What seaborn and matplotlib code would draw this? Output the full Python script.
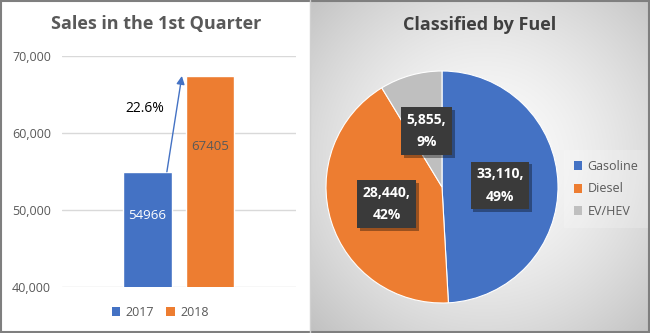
import numpy as np
import pandas as pd
import matplotlib
matplotlib.use("Agg")
import matplotlib.pyplot as plt
import matplotlib.patheffects as pe
from matplotlib.patches import Rectangle, Patch
from matplotlib.lines import Line2D
import seaborn as sns

# ---- data ----
years = ["2017", "2018"]
sales = [54966, 67405]
fuel_types = ["Gasoline", "Diesel", "EV/HEV"]
fuel_sales = [33110, 28440, 5855]
y_ticks = [40000, 50000, 60000, 70000]

bar_colors = ["#4472C4", "#ED7D31"]
pie_colors = ["#4472C4", "#ED7D31", "#BFBFBF"]
TXT = "#595959"

sns.set_theme(style="white")
plt.rcParams["font.family"] = ["Open Sans", "DejaVu Sans"]

W, H = 650, 333
fig = plt.figure(figsize=(6.5, 3.33), dpi=100)
fig.patch.set_facecolor("white")

def fx(px):
    return px / W

def fy(py):
    return 1 - py / H

# ---- right panel gradient background ----
bg = fig.add_axes([fx(310), 0, fx(340), 1], zorder=0)
gx, gy = np.meshgrid(np.linspace(0, 340, 340), np.linspace(0, 333, 333))
cx, cy = 175, 160
d = np.sqrt((gx - cx) ** 2 + (gy - cy) ** 2)
d = d / d.max()
v = (252 - 60 * d ** 1.6) / 255.0
bg.imshow(np.dstack([v, v, v]), aspect="auto", extent=[0, 1, 0, 1], origin="upper")
bg.set_axis_off()

# ---- left bar chart ----
ax = fig.add_axes([fx(62), fy(287), fx(296 - 62), (287 - 56) / H], zorder=2)
df = pd.DataFrame({"year": years, "sales": sales})
sns.barplot(data=df, x="year", y="sales", hue="year", palette=bar_colors,
            width=0.78, ax=ax, legend=False, saturation=1, zorder=3)
ax.set_ylim(40000, 70000)
ax.set_xlim(-1.368, 2.376)
ax.set_yticks(y_ticks)
ax.set_yticklabels([f"{t:,}" for t in y_ticks], color=TXT, fontsize=9)
ax.set_xticks([])
ax.set_xlabel("")
ax.set_ylabel("")
ax.grid(axis="y", color="#D9D9D9", lw=1, zorder=0)
for s in ax.spines.values():
    s.set_visible(False)
ax.tick_params(axis="y", length=0, pad=8)
ax.set_facecolor("none")

ax.text(0, 49350, f"{sales[0]}", ha="center", va="center", color="white", fontsize=9.5, zorder=5)
ax.text(1, 58300, f"{sales[1]}", ha="center", va="center", color="#595959", fontsize=9.5, zorder=5)

growth = (sales[1] - sales[0]) / sales[0] * 100
ax.annotate("", xy=(0.55, sales[1]), xytext=(0.31, sales[0]),
            arrowprops=dict(arrowstyle="-|>", color="#4472C4", lw=1,
                            mutation_scale=12, shrinkA=0, shrinkB=0), zorder=6)
ax.text(-0.04, 63200, f"{growth:.1f}%", ha="center", va="center", color="black", fontsize=10, zorder=6)

fig.text(fx(156), fy(24), "Sales in the 1st Quarter", ha="center", va="center",
         fontsize=13, fontweight="bold", color=TXT)

handles = [Patch(facecolor=c, edgecolor="none") for c in bar_colors]
fig.legend(handles, years, loc="center", bbox_to_anchor=(fx(160), fy(312)), ncol=2,
           frameon=False, fontsize=9, labelcolor=TXT, handlelength=0.7, handleheight=0.7,
           handletextpad=0.4, columnspacing=1.0)

# ---- right pie chart ----
r = 116
pax = fig.add_axes([fx(442 - r), fy(187 + r), 2 * r / W, 2 * r / H], zorder=2)
total = sum(fuel_sales)
wedges, texts, autotexts = pax.pie(
    fuel_sales, colors=pie_colors, startangle=90, counterclock=False,
    autopct=lambda p: f"{p * total / 100:,.0f},\n{p:.0f}%", pctdistance=0.5,
    wedgeprops=dict(edgecolor="white", linewidth=0.8))
for t in autotexts:
    t.set_color("white")
    t.set_fontweight("bold")
    t.set_fontsize(10)
    t.set_linespacing(1.75)
    t.set_ha("center")
    t.set_va("center")
    t.set_bbox(dict(boxstyle="square,pad=0.4", facecolor="#3A3A3A", edgecolor="none"))
    t.get_bbox_patch().set_path_effects([
        pe.SimplePatchShadow(offset=(2, -2), shadow_rgbFace="black", alpha=0.35),
        pe.Normal()])
pax.set_xlim(-1, 1)
pax.set_ylim(-1, 1)
pax.set_aspect("auto")
pax.set_axis_off()

fig.text(fx(480), fy(25), "Classified by Fuel", ha="center", va="center",
         fontsize=13, fontweight="bold", color="#404040")

ph = [Patch(facecolor=c, edgecolor="none") for c in pie_colors]
leg = fig.legend(ph, fuel_types, loc="center", bbox_to_anchor=(fx(606), fy(189)),
                 frameon=True, fontsize=9, labelcolor=TXT, handlelength=0.7,
                 handleheight=0.7, handletextpad=0.4, labelspacing=0.75, borderpad=0.5)
leg.get_frame().set_facecolor("white")
leg.get_frame().set_alpha(0.2)
leg.get_frame().set_edgecolor("none")
leg.get_frame().set_boxstyle("square")

# ---- borders ----
fig.add_artist(Line2D([fx(309.5), fx(309.5)], [0, 1], color="#D0D0D0", lw=1, transform=fig.transFigure))
fig.add_artist(Rectangle((0.001, 0.002), 0.998, 0.996, transform=fig.transFigure,
                         fill=False, edgecolor="#7F7F7F", lw=1.5))

fig.savefig("out.png", dpi=100)
